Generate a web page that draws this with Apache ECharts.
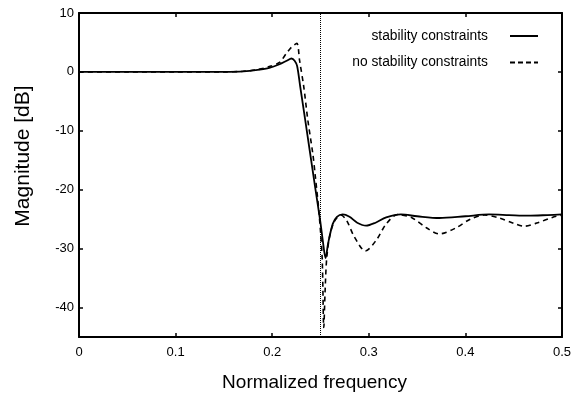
<!DOCTYPE html>
<html>
<head>
<meta charset="utf-8">
<script src="https://cdn.jsdelivr.net/npm/echarts@6/dist/echarts.min.js"></script>
<style>html,body{margin:0;padding:0;background:#fff}#c{width:582px;height:394px}</style>
</head>
<body>
<div id="c"></div>
<script>
const seriesNames = ['stability constraints', 'no stability constraints'];
const xTicks = [0, 0.1, 0.2, 0.3, 0.4, 0.5];
const yTicks = [-40, -30, -20, -10, 0, 10];
const cutoff = 0.25;

const solidF = [0, 0.05, 0.1, 0.15, 0.17, 0.185, 0.197, 0.2076, 0.215, 0.22, 0.2232, 0.2258, 0.229, 0.2342, 0.2393, 0.2444, 0.2497, 0.2525, 0.2552, 0.258, 0.2627, 0.267, 0.273, 0.28, 0.288, 0.2972, 0.307, 0.318, 0.3333, 0.35, 0.373, 0.4, 0.4246, 0.445, 0.465, 0.485, 0.5];
const solidDb = [0, 0, 0, 0.02, 0.1, 0.35, 0.68, 1.3, 1.9, 2.28, 1.9, 1.0, -2.5, -8.2, -13.85, -19.5, -25.3, -28.8, -31.6, -29, -25.8, -24.6, -24.2, -24.6, -25.6, -26.1, -25.6, -24.7, -24.2, -24.5, -24.8, -24.5, -24.2, -24.3, -24.4, -24.3, -24.2];

const dashF = [0, 0.05, 0.1, 0.15, 0.17, 0.185, 0.197, 0.2076, 0.2145, 0.22, 0.2255, 0.2283, 0.2327, 0.2369, 0.242, 0.2445, 0.2485, 0.2517, 0.2534, 0.2548, 0.2565, 0.26, 0.265, 0.271, 0.277, 0.285, 0.2965, 0.308, 0.318, 0.33, 0.345, 0.36, 0.373, 0.39, 0.405, 0.4194, 0.435, 0.45, 0.4607, 0.475, 0.49, 0.5];
const dashDb = [0, 0, 0, 0, 0.1, 0.4, 0.9, 1.6, 3.1, 4.2, 4.84, 2.0, -2.55, -8.2, -13.85, -17.5, -24, -31.5, -43.4, -37, -31.5, -27.5, -25.2, -24.3, -25.2, -28.0, -30.4, -28.5, -25.8, -24.2, -24.8, -26.5, -27.5, -26.5, -25, -24.3, -24.8, -25.7, -26.2, -25.6, -24.7, -24.3];

const pairs = (fs, ds) => fs.map((f, i) => [f, ds[i]]);
const font = 'Liberation Sans, Arial, sans-serif';

const axisCommon = {
  axisLine: {show: true, onZero: false, lineStyle: {color: '#000', width: 2}},
  axisTick: {show: true, inside: true, length: 4, lineStyle: {color: '#000', width: 1.5}},
  splitLine: {show: false}
};

const chart = echarts.init(document.getElementById('c'), null, {renderer: 'canvas'});
chart.setOption({
  animation: false,
  backgroundColor: '#fff',
  grid: {left: 79, right: 20, top: 13, bottom: 57, outerBoundsMode: 'none', containLabel: false},
  legend: {
    orient: 'vertical', right: 44, top: 28, align: 'right', padding: 0,
    itemWidth: 28, itemHeight: 2, itemGap: 10.5,
    itemStyle: {color: '#000', borderWidth: 0},
    textStyle: {fontFamily: font, fontSize: 13.8, lineHeight: 16, color: '#000', padding: [0, 17, 0, 0]},
    data: [
      {name: seriesNames[0], icon: 'path://M0,0h28v2h-28z'},
      {name: seriesNames[1], icon: 'path://M0,0h5v2h-5zM8,0h5v2h-5zM16,0h5v2h-5zM24,0h4v2h-4z'}
    ]
  },
  xAxis: [
    Object.assign({}, axisCommon, {
      type: 'value', position: 'bottom', min: 0, max: 0.5, interval: 0.1,
      name: 'Normalized frequency', nameLocation: 'middle', nameGap: 36,
      nameTextStyle: {fontFamily: font, fontSize: 19, color: '#000', padding: [0, 12, 0, 0]},
      axisLabel: {fontFamily: font, fontSize: 13, color: '#000', margin: 9,
        customValues: xTicks, formatter: v => String(v)}
    }),
    Object.assign({}, axisCommon, {
      type: 'value', position: 'top', min: 0, max: 0.5, interval: 0.1,
      axisLabel: {show: false}
    })
  ],
  yAxis: [
    Object.assign({}, axisCommon, {
      type: 'value', position: 'left', min: -45, max: 10,
      name: 'Magnitude [dB]', nameLocation: 'middle', nameGap: 45, nameRotate: 90,
      nameTextStyle: {fontFamily: font, fontSize: 21, color: '#000', padding: [0, 0, 0, 38]},
      axisTick: Object.assign({}, axisCommon.axisTick, {customValues: yTicks}),
      axisLabel: {fontFamily: font, fontSize: 13, color: '#000', margin: 5, customValues: yTicks}
    }),
    Object.assign({}, axisCommon, {
      type: 'value', position: 'right', min: -45, max: 10,
      axisTick: Object.assign({}, axisCommon.axisTick, {customValues: yTicks}),
      axisLabel: {show: false, customValues: yTicks}
    })
  ],
  series: [
    {
      name: seriesNames[0], type: 'line', data: pairs(solidF, solidDb),
      symbol: 'none', smooth: 0.3, color: '#000',
      lineStyle: {color: '#000', width: 1.8, type: 'solid'},
      markLine: {
        silent: true, symbol: 'none', label: {show: false},
        lineStyle: {color: '#000', width: 1, type: [1, 1]},
        data: [{xAxis: cutoff}]
      }
    },
    {
      name: seriesNames[1], type: 'line', data: pairs(dashF, dashDb),
      symbol: 'none', smooth: 0.3, color: '#000',
      lineStyle: {color: '#000', width: 1.6, type: [5, 4]}
    }
  ]
});
</script>
</body>
</html>
